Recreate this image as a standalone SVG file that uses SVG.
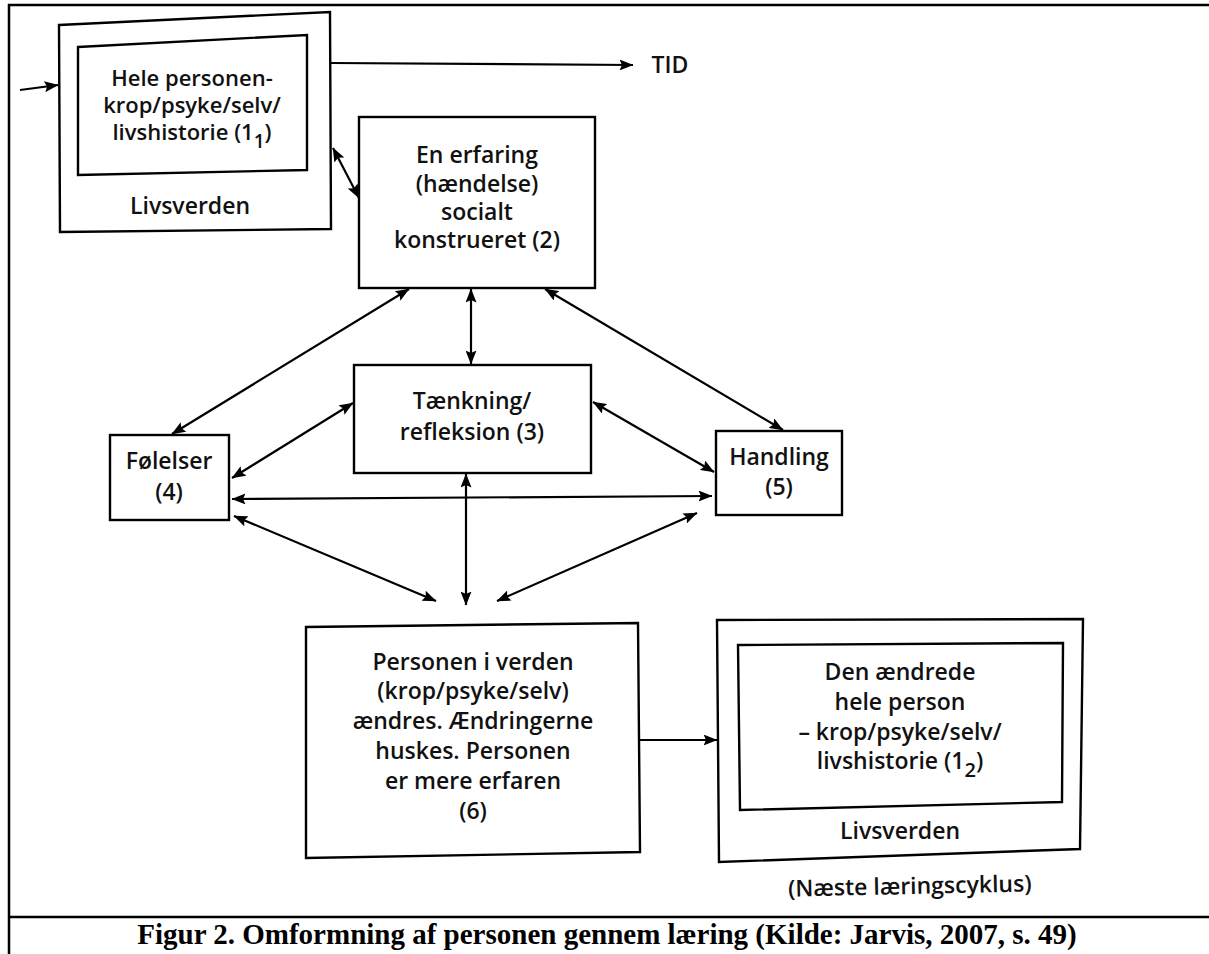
<svg xmlns="http://www.w3.org/2000/svg" width="1209" height="954" viewBox="0 0 1209 954">
<defs>
<style>
.bx{fill:none;stroke:#000;stroke-width:2.4;stroke-linejoin:miter}
.t{font-family:"Open Sans","Noto Sans","DejaVu Sans",sans-serif;font-weight:600;font-size:23px;fill:#111;text-anchor:middle}
.s{font-size:22px}
.c{stroke:#000;stroke-width:2.2;fill:none;marker-end:url(#ah)}
.d{marker-start:url(#ah)}
.fr{stroke:#000;stroke-width:2.5;fill:none}
.cap{font-family:"Liberation Serif","Times New Roman",serif;font-weight:bold;font-size:29px;fill:#000;text-anchor:middle}
</style>
<marker id="ah" viewBox="0 0 14 11" refX="13.5" refY="5.5" markerWidth="14" markerHeight="11" markerUnits="userSpaceOnUse" orient="auto-start-reverse">
<path d="M0,0 L14,5.5 L0,11 L2.5,5.5 z" fill="#000"/>
</marker>
</defs>
<rect width="1209" height="954" fill="#fff"/>
<g id="frame">
<path class="fr" d="M9,954 V5 H1209"/>
<path class="fr" d="M9,917 H1209"/>
</g>
<g id="node1">
<path class="bx" d="M59,25 L330,12 L331,229 L60,232 Z"/>
<path class="bx" d="M78,47 L307,35 L307,170 L78,175 Z"/>
<text class="t s" x="192" y="86">Hele personen-</text>
<text class="t s" x="192" y="113">krop/psyke/selv/</text>
<text class="t s" x="192" y="140">livshistorie (1<tspan font-size="19" dy="8">1</tspan><tspan dy="-8">)</tspan></text>
<text class="t" x="190" y="214">Livsverden</text>
</g>
<g id="tid">
<text class="t" x="670" y="73">TID</text>
</g>
<g id="node2">
<rect class="bx" x="359" y="117" width="236" height="171"/>
<text class="t" x="477" y="163">En erfaring</text>
<text class="t" x="477" y="192">(hændelse)</text>
<text class="t" x="477" y="220">socialt</text>
<text class="t" x="477" y="248">konstrueret (2)</text>
</g>
<g id="node3">
<rect class="bx" x="354" y="365" width="237" height="108"/>
<text class="t" x="472" y="409">Tænkning/</text>
<text class="t" x="472" y="440">refleksion (3)</text>
</g>
<g id="node4">
<rect class="bx" x="110" y="435" width="119" height="85"/>
<text class="t" x="169" y="469">Følelser</text>
<text class="t" x="169" y="500">(4)</text>
</g>
<g id="node5">
<rect class="bx" x="716" y="431" width="126" height="84"/>
<text class="t" x="779" y="465">Handling</text>
<text class="t" x="779" y="495">(5)</text>
</g>
<g id="node6">
<path class="bx" d="M306,627 L638,623 L640,852 L306,858 Z"/>
<text class="t" x="473" y="670">Personen i verden</text>
<text class="t" x="473" y="699">(krop/psyke/selv)</text>
<text class="t" x="473" y="729">ændres. Ændringerne</text>
<text class="t" x="473" y="759">huskes. Personen</text>
<text class="t" x="473" y="789">er mere erfaren</text>
<text class="t" x="473" y="819">(6)</text>
</g>
<g id="node7">
<path class="bx" d="M717,620 L1083,619 L1080,849 L719,862 Z"/>
<path class="bx" d="M738,645 L1063,643 L1062,802 L740,810 Z"/>
<text class="t" x="900" y="680">Den ændrede</text>
<text class="t" x="900" y="710">hele person</text>
<text class="t" x="900" y="740">– krop/psyke/selv/</text>
<text class="t" x="900" y="769">livshistorie (1<tspan font-size="20" dy="8">2</tspan><tspan dy="-8">)</tspan></text>
<text class="t" x="900" y="839">Livsverden</text>
<text class="t" x="910" y="894" transform="rotate(-1.2 910 894)">(Næste læringscyklus)</text>
</g>
<g id="connectors">
<line class="c" x1="20" y1="90" x2="58" y2="85"/>
<line class="c" x1="331" y1="63" x2="633" y2="65"/>
<line class="c d" x1="333" y1="148" x2="359" y2="198"/>
<line class="c d" x1="409" y1="289" x2="172" y2="434"/>
<line class="c d" x1="471" y1="289" x2="471" y2="364"/>
<line class="c d" x1="545" y1="289" x2="783" y2="430"/>
<line class="c d" x1="232" y1="478" x2="353" y2="403"/>
<line class="c d" x1="593" y1="402" x2="714" y2="472"/>
<line class="c d" x1="232" y1="499" x2="712" y2="496"/>
<line class="c d" x1="234" y1="516" x2="436" y2="601"/>
<line class="c d" x1="466" y1="474" x2="466" y2="605"/>
<line class="c d" x1="697" y1="513" x2="497" y2="601"/>
<line class="c" x1="640" y1="740" x2="717" y2="740"/>
</g>
<g id="caption">
<text class="cap" x="607" y="944">Figur 2. Omformning af personen gennem læring (Kilde: Jarvis, 2007, s. 49)</text>
</g>
</svg>
